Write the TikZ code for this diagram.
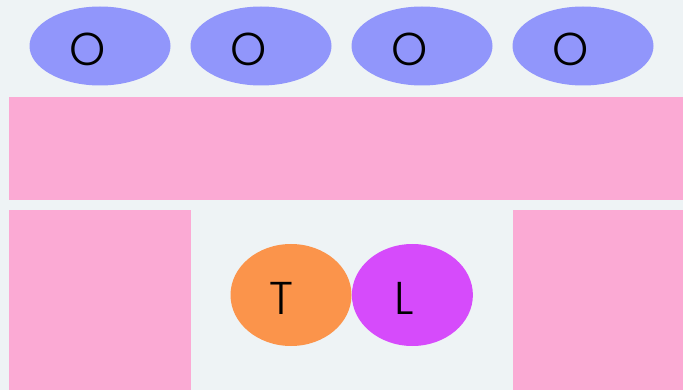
\documentclass[tikz,border=0pt]{standalone}
\usepackage{fontspec}
\setmainfont{Poppins Light}
\usepackage{xcolor}
\usepackage{tikz}
\usetikzlibrary{shapes.geometric,positioning}

\definecolor{bgcol}{HTML}{EEF3F5}
\definecolor{ocol}{HTML}{9196FB}
\definecolor{pinkcol}{HTML}{FBAAD4}
\definecolor{tcol}{HTML}{FB944B}
\definecolor{lcol}{HTML}{D64BFB}

\begin{document}
\begin{tikzpicture}[
  x=1pt, y=-1pt,
  blob/.style={ellipse, fill=#1, draw=none, inner sep=0pt,
               minimum width=141pt, minimum height=79pt},
  blob/.default={ocol},
  lbl/.style={font=\fontsize{46}{46}\selectfont, text=black,
              inner sep=0pt, yshift=-3pt, xshift=#1},
  lbl/.default={-12pt},
  panel/.style={rectangle, fill=pinkcol, draw=none, inner sep=0pt,
                anchor=north west}
]
  \fill[bgcol] (0,0) rectangle (683,390);
  \useasboundingbox (0,0) rectangle (683,390);

  % top row
  \node[blob, label={[lbl]center:O}] (o1) at (100,46) {};
  \node[blob, label={[lbl]center:O}] (o2) at (261,46) {};
  \node[blob, label={[lbl]center:O}] (o3) at (422,46) {};
  \node[blob, label={[lbl]center:O}] (o4) at (583,46) {};

  % pink panels
  \node[panel, minimum width=674pt, minimum height=103pt] (bar) at (9,97) {};
  \node[panel, minimum width=182pt, minimum height=180pt] (lside) at (9,210) {};
  \node[panel, minimum width=170pt, minimum height=180pt] (rside) at (513,210) {};

  % middle pair
  \node[blob=tcol, minimum width=121pt, minimum height=102pt,
        label={[lbl=-10pt]center:T}] (t) at (291,295) {};
  \node[blob=lcol, minimum width=121pt, minimum height=102pt,
        label={[lbl=-8pt]center:L}, right=0pt of t] (l) {};
\end{tikzpicture}
\end{document}
